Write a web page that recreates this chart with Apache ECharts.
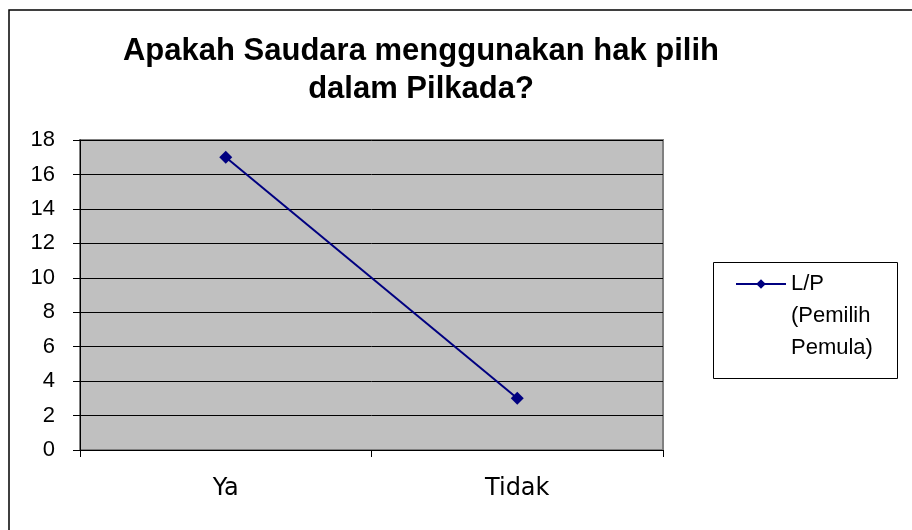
<!DOCTYPE html>
<html>
<head>
<meta charset="utf-8">
<script src="https://cdn.jsdelivr.net/npm/echarts@6/dist/echarts.min.js"></script>
<style>
html,body{margin:0;padding:0;background:#fff;}
#chart{width:912px;height:530px;}
</style>
</head>
<body>
<div id="chart"></div>
<script>
const titleText = 'Apakah Saudara menggunakan hak pilih\ndalam Pilkada?';
const categories = ['Ya', 'Tidak'];
const seriesName = 'L/P (Pemilih Pemula)';
const legendLines = ['L/P', '(Pemilih', 'Pemula)'];
const values = [17, 3];
const yTicks = { min: 0, max: 18, interval: 2 };

const chart = echarts.init(document.getElementById('chart'), null, { renderer: 'canvas' });
const font = 'Arial, "Liberation Sans", sans-serif';
chart.setOption({
  animation: false,
  backgroundColor: '#ffffff',
  textStyle: { fontFamily: font },
  title: {
    text: titleText,
    left: 416,
    top: 27,
    textAlign: 'center',
    textStyle: { fontSize: 31, fontWeight: 'bold', color: '#000', lineHeight: 38, fontFamily: font }
  },
  graphic: [
    { type: 'rect', shape: { x: 9, y: 10, width: 940, height: 560 }, style: { fill: 'none', stroke: '#000', lineWidth: 1.5 }, silent: true, z: -1 },
    { type: 'rect', shape: { x: 713.5, y: 262.5, width: 184, height: 116 }, style: { fill: '#fff', stroke: '#000', lineWidth: 1 }, silent: true, z: 0 }
  ],
  legend: {
    left: 735,
    top: 204,
    padding: 0,
    orient: 'vertical',
    itemWidth: 50,
    itemHeight: 12,
    z: 5,
    data: [seriesName],
    formatter: function () { return '\n\n' + legendLines.join('\n'); },
    textStyle: { fontSize: 22, color: '#000', lineHeight: 32, fontFamily: font }
  },
  grid: {
    left: 80, right: 249, top: 140, bottom: 80,
    show: true, backgroundColor: '#C0C0C0', borderColor: '#808080', borderWidth: 2
  },
  xAxis: {
    type: 'category',
    data: categories,
    boundaryGap: true,
    axisLine: { show: true, lineStyle: { color: '#000', width: 1 } },
    axisTick: { show: true, inside: false, length: 7, alignWithLabel: false, lineStyle: { color: '#000' } },
    axisLabel: { fontSize: 24, color: '#000', margin: 27, fontFamily: '"DejaVu Sans", Verdana, sans-serif' },
    splitLine: { show: false }
  },
  yAxis: {
    type: 'value',
    min: yTicks.min, max: yTicks.max, interval: yTicks.interval,
    axisLine: { show: true, lineStyle: { color: '#000', width: 1 } },
    axisTick: { show: true, length: 7, lineStyle: { color: '#000' } },
    axisLabel: { fontSize: 22, color: '#000', margin: 25, fontFamily: font },
    splitLine: { show: true, lineStyle: { color: '#000', width: 1 } }
  },
  series: [{
    name: seriesName,
    type: 'line',
    data: values,
    symbol: 'diamond',
    symbolSize: 13,
    lineStyle: { color: '#000080', width: 2 },
    itemStyle: { color: '#000080' }
  }]
});
</script>
</body>
</html>
